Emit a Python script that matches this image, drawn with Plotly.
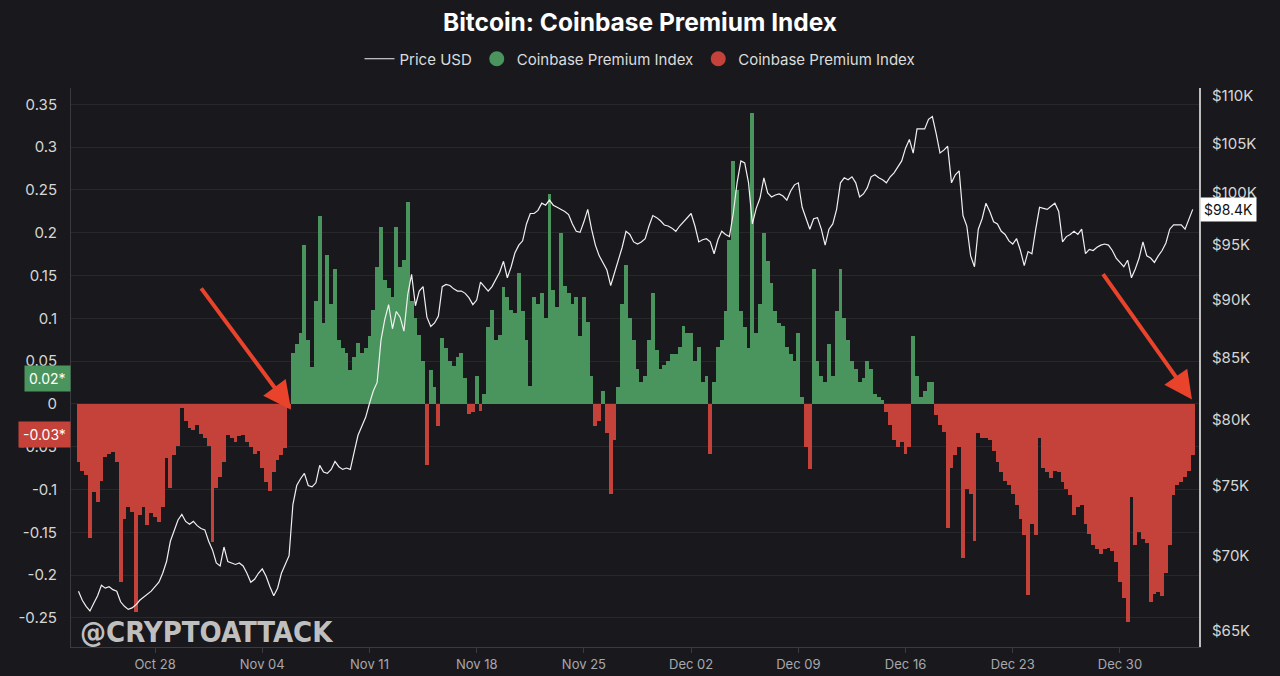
import math
import pandas as pd
import plotly.graph_objects as go
from plotly.subplots import make_subplots

# ---------------- data (6-hourly, starting 2024-10-23 00:00) ----------------
start_time = "2024-10-23 00:00"

premium = [
    -0.068, -0.078, -0.083, -0.157,    # Oct 23
    -0.103, -0.115, -0.09, -0.062,     # Oct 24
    -0.058, -0.056, -0.068, -0.208,    # Oct 25
    -0.135, -0.12, -0.126, -0.243,     # Oct 26
    -0.13, -0.12, -0.141, -0.128,      # Oct 27
    -0.132, -0.138, -0.12, -0.063,     # Oct 28
    -0.098, -0.06, -0.049, -0.005,     # Oct 29
    -0.02, -0.028, -0.03, -0.025,      # Oct 30
    -0.035, -0.04, -0.049, -0.161,     # Oct 31
    -0.098, -0.085, -0.068, -0.036,    # Nov 01
    -0.04, -0.044, -0.038, -0.036,     # Nov 02
    -0.045, -0.05, -0.058, -0.055,     # Nov 03
    -0.075, -0.091, -0.102, -0.079,    # Nov 04
    -0.065, -0.06, -0.052, -0.005,     # Nov 05
    0.059, 0.07, 0.083, 0.186,         # Nov 06
    0.075, 0.043, 0.12, 0.219,         # Nov 07
    0.094, 0.174, 0.117, 0.157,        # Nov 08
    0.075, 0.065, 0.059, 0.04,         # Nov 09
    0.055, 0.071, 0.059, 0.065,        # Nov 10
    0.079, 0.11, 0.16, 0.207,          # Nov 11
    0.145, 0.135, 0.125, 0.207,        # Nov 12
    0.16, 0.168, 0.236, 0.12,          # Nov 13
    0.1, 0.08, 0.05, -0.071,           # Nov 14
    0.04, 0.02, -0.026, 0.077,         # Nov 15
    0.065, 0.05, 0.044, 0.055,         # Nov 16
    0.059, 0.03, -0.012, -0.01,        # Nov 17
    0.032, -0.008, 0.012, 0.09,        # Nov 18
    0.11, 0.075, 0.08, 0.137,          # Nov 19
    0.125, 0.11, 0.106, 0.153,         # Nov 20
    0.109, 0.075, 0.021, 0.125,        # Nov 21
    0.117, 0.129, 0.10, 0.245,         # Nov 22
    0.133, 0.113, 0.2, 0.138,          # Nov 23
    0.129, 0.117, 0.125, 0.079,        # Nov 24
    0.125, 0.096, 0.033, -0.026,       # Nov 25
    -0.02, 0.015, -0.034, -0.105,      # Nov 26
    -0.042, 0.02, 0.117, 0.162,        # Nov 27
    0.1, 0.075, 0.041, 0.025,          # Nov 28
    0.033, 0.075, 0.129, 0.063,        # Nov 29
    0.041, 0.045, 0.05, 0.058,         # Nov 30
    0.058, 0.067, 0.091, 0.083,        # Dec 01
    0.083, 0.05, 0.067, 0.025,         # Dec 02
    0.033, -0.058, 0.025, 0.067,       # Dec 03
    0.075, 0.109, 0.192, 0.284,        # Dec 04
    0.25, 0.109, 0.09, 0.065,          # Dec 05
    0.34, 0.083, 0.117, 0.2,           # Dec 06
    0.167, 0.141, 0.109, 0.095,        # Dec 07
    0.091, 0.067, 0.058, 0.05,         # Dec 08
    0.083, 0.008, -0.05, -0.076,       # Dec 09
    0.158, 0.05, 0.033, 0.025,         # Dec 10
    0.07, 0.033, 0.109, 0.158,         # Dec 11
    0.1, 0.075, 0.05, 0.041,           # Dec 12
    0.025, 0.03, 0.05, 0.041,          # Dec 13
    0.012, 0.008, 0.004, -0.01,        # Dec 14
    -0.025, -0.042, -0.05, -0.045,     # Dec 15
    -0.058, -0.05, 0.079, 0.033,       # Dec 16
    0.008, 0.015, 0.025, 0.025,        # Dec 17
    -0.013, -0.025, -0.033, -0.145,    # Dec 18
    -0.075, -0.06, -0.05, -0.18,       # Dec 19
    -0.1, -0.105, -0.16, -0.034,       # Dec 20
    -0.04, -0.04, -0.042, -0.055,      # Dec 21
    -0.068, -0.08, -0.09, -0.095,      # Dec 22
    -0.105, -0.118, -0.135, -0.153,    # Dec 23
    -0.223, -0.14, -0.153, -0.04,      # Dec 24
    -0.075, -0.08, -0.086, -0.078,     # Dec 25
    -0.08, -0.091, -0.1, -0.106,       # Dec 26
    -0.13, -0.12, -0.118, -0.14,       # Dec 27
    -0.152, -0.165, -0.17, -0.175,     # Dec 28
    -0.17, -0.168, -0.172, -0.185,     # Dec 29
    -0.208, -0.227, -0.255, -0.109,    # Dec 30
    -0.165, -0.15, -0.158, -0.162,     # Dec 31
    -0.231, -0.222, -0.22, -0.225,     # Jan 01
    -0.198, -0.165, -0.106, -0.095,    # Jan 02
    -0.091, -0.085, -0.078, -0.06,     # Jan 03
]

price_k = [
    67.6, 67.0, 66.6, 66.3,      # Oct 23
    66.8, 67.3, 68.0, 67.8,      # Oct 24
    67.9, 67.7, 67.6, 66.9,      # Oct 25
    66.6, 66.4, 66.5, 66.7,      # Oct 26
    67.0, 67.2, 67.4, 67.6,      # Oct 27
    67.9, 68.2, 68.8, 69.6,      # Oct 28
    71.0, 71.8, 72.5, 72.9,      # Oct 29
    72.4, 72.2, 72.4, 72.1,      # Oct 30
    71.9, 71.8, 71.0, 70.4,      # Oct 31
    69.5, 69.3, 70.6, 69.6,      # Nov 01
    69.5, 69.4, 69.5, 69.3,      # Nov 02
    68.8, 68.2, 68.4, 68.8,      # Nov 03
    69.1, 68.6, 67.9, 67.3,      # Nov 04
    67.8, 68.8, 69.4, 70.0,      # Nov 05
    73.6, 75.0, 75.5, 75.9,      # Nov 06
    75.0, 74.9, 75.2, 76.5,      # Nov 07
    76.0, 75.9, 76.2, 76.8,      # Nov 08
    76.4, 76.2, 76.3, 76.2,      # Nov 09
    77.5, 78.8, 79.5, 80.2,      # Nov 10
    81.3, 82.3, 83.0, 86.5,      # Nov 11
    88.3, 89.6, 87.5, 89.0,      # Nov 12
    88.5, 87.3, 90.5, 92.3,      # Nov 13
    89.5, 90.8, 91.2, 88.5,      # Nov 14
    87.7, 88.0, 88.6, 91.2,      # Nov 15
    91.4, 91.3, 91.0, 90.8,      # Nov 16
    90.8, 90.6, 90.2, 89.6,      # Nov 17
    90.0, 91.6, 91.2, 90.8,      # Nov 18
    91.2, 91.8, 92.5, 93.5,      # Nov 19
    92.0, 93.0, 94.3, 95.0,      # Nov 20
    95.4, 97.0, 98.0, 98.0,      # Nov 21
    98.3, 99.0, 98.8, 99.3,      # Nov 22
    98.8, 98.6, 98.4, 98.2,      # Nov 23
    97.9, 97.0, 96.3, 96.2,      # Nov 24
    97.2, 98.4, 96.5, 95.0,      # Nov 25
    94.0, 93.3, 92.7, 91.3,      # Nov 26
    92.5, 93.5, 94.8, 96.3,      # Nov 27
    96.0, 95.3, 95.1, 95.3,      # Nov 28
    95.6, 96.8, 97.8, 97.6,      # Nov 29
    97.3, 96.9, 96.8, 96.6,      # Nov 30
    96.3, 96.8, 97.2, 97.6,      # Dec 01
    98.0, 96.8, 95.3, 95.5,      # Dec 02
    95.6, 95.3, 94.2, 95.5,      # Dec 03
    96.3, 96.0, 95.8, 98.0,      # Dec 04
    101.0, 103.2, 103.0, 101.0,  # Dec 05
    97.0, 98.5, 99.5, 101.5,     # Dec 06
    100.0, 99.6, 99.8, 99.9,     # Dec 07
    99.7, 99.3, 100.2, 100.8,    # Dec 08
    101.0, 98.6, 97.5, 96.5,     # Dec 09
    97.5, 97.6, 96.5, 95.0,      # Dec 10
    96.5, 97.0, 98.4, 101.0,     # Dec 11
    101.5, 101.3, 101.6, 101.0,  # Dec 12
    99.6, 99.9, 100.5, 101.6,    # Dec 13
    101.8, 101.5, 101.3, 101.0,  # Dec 14
    101.6, 102.0, 102.6, 103.2,  # Dec 15
    104.5, 105.4, 104.0, 106.5,  # Dec 16
    106.5, 106.5, 107.5, 107.8,  # Dec 17
    106.0, 104.0, 104.3, 104.7,  # Dec 18
    101.0, 101.8, 102.2, 97.8,   # Dec 19
    96.8, 94.0, 93.0, 96.5,      # Dec 20
    97.5, 99.0, 98.2, 97.2,      # Dec 21
    97.0, 96.3, 96.0, 95.4,      # Dec 22
    95.1, 95.6, 94.5, 93.1,      # Dec 23
    94.4, 94.2, 96.5, 98.6,      # Dec 24
    98.5, 98.4, 98.7, 99.0,      # Dec 25
    98.2, 95.3, 95.8, 96.0,      # Dec 26
    96.3, 96.0, 96.5, 94.2,      # Dec 27
    94.6, 94.5, 94.8, 95.0,      # Dec 28
    95.1, 95.0, 94.5, 93.8,      # Dec 29
    93.4, 93.0, 93.6, 92.0,      # Dec 30
    92.8, 93.8, 95.3, 94.0,      # Dec 31
    93.8, 93.4, 94.0, 94.5,      # Jan 01
    95.2, 96.5, 96.9, 96.9,      # Jan 02
    96.9, 96.5, 97.5, 98.4,      # Jan 03
]

x_tick_dates = ["2024-10-28", "2024-11-04", "2024-11-11", "2024-11-18", "2024-11-25",
                "2024-12-02", "2024-12-09", "2024-12-16", "2024-12-23", "2024-12-30"]
x_tick_labels = ["Oct 28", "Nov 04", "Nov 11", "Nov 18", "Nov 25",
                 "Dec 02", "Dec 09", "Dec 16", "Dec 23", "Dec 30"]

left_ticks = [-0.25, -0.2, -0.15, -0.1, -0.05, 0, 0.05, 0.1, 0.15, 0.2, 0.25, 0.3, 0.35]
left_tick_labels = ["-0.25", "-0.2", "-0.15", "-0.1", "-0.05", "0", "0.05", "0.1",
                    "0.15", "0.2", "0.25", "0.3", "0.35"]

right_ticks_k = [65, 70, 75, 80, 85, 90, 95, 100, 105, 110]
right_tick_labels = ["$65K", "$70K", "$75K", "$80K", "$85K", "$90K", "$95K",
                     "$100K", "$105K", "$110K"]

last_price_label = "$98.4K"
green_label = "0.02*"
red_label = "-0.03*"

# ---------------- styling ----------------
BG = "#19191d"
GREEN = "#4a955d"
RED = "#c5423a"
ARROW = "#e9432c"
FONT = "Inter, Roboto, 'Noto Sans', sans-serif"

times = pd.date_range(start_time, periods=len(premium), freq="6h")
pos_vals = [v if v >= 0 else None for v in premium]
neg_vals = [v if v < 0 else None for v in premium]
price_usd = [p * 1000 for p in price_k]

fig = make_subplots(specs=[[{"secondary_y": True}]])
bar_w = 6 * 3600 * 1000

fig.add_trace(go.Bar(x=times, y=pos_vals, width=bar_w, marker=dict(color=GREEN, line_width=0),
                     showlegend=False, name="Coinbase Premium Index"), secondary_y=False)
fig.add_trace(go.Bar(x=times, y=neg_vals, width=bar_w, marker=dict(color=RED, line_width=0),
                     showlegend=False, name="Coinbase Premium Index"), secondary_y=False)
fig.add_trace(go.Scatter(x=times, y=price_usd, mode="lines", name="Price USD",
                         line=dict(color="#f0f0f0", width=1.2), legendrank=1), secondary_y=True)
fig.add_trace(go.Scatter(x=[None], y=[None], mode="markers", name="Coinbase Premium Index",
                         marker=dict(color=GREEN, size=15), legendrank=2), secondary_y=False)
fig.add_trace(go.Scatter(x=[None], y=[None], mode="markers", name="Coinbase Premium Index",
                         marker=dict(color=RED, size=15), legendrank=3), secondary_y=False)

fig.update_layout(
    width=1280, height=676, autosize=False,
    paper_bgcolor=BG, plot_bgcolor=BG,
    margin=dict(l=71, r=81, t=88, b=29, autoexpand=False),
    barmode="overlay", bargap=0,
    font=dict(family=FONT, color="#d6d6d6", size=15),
    title=dict(text="<b>Bitcoin: Coinbase Premium Index</b>", x=0.5, xanchor="center",
               xref="container", y=(676 - 22) / 676, yref="container", yanchor="middle",
               font=dict(size=24.5, color="#ffffff", family=FONT)),
    legend=dict(orientation="h", x=0.5, xanchor="center", xref="container",
                y=(676 - 59) / 676, yref="container", yanchor="middle",
                font=dict(size=15, color="#dcdcdc"), bgcolor="rgba(0,0,0,0)", itemwidth=30),
    showlegend=True,
)

x0 = pd.Timestamp("2024-10-22 12:18")
x1 = pd.Timestamp("2025-01-04 03:50")
fig.update_xaxes(
    domain=[0, 1],
    range=[x0, x1], tickvals=pd.to_datetime(x_tick_dates), ticktext=x_tick_labels,
    showgrid=False, showline=True, linecolor="#3a3a40", linewidth=1,
    ticks="outside", ticklen=5, tickcolor="#3a3a40", automargin=False,
    tickfont=dict(size=13, color="#a8a8ad"), zeroline=False,
)
fig.update_yaxes(
    range=[-0.284, 0.369], tickvals=left_ticks, ticktext=left_tick_labels,
    showgrid=True, gridcolor="#27272c", gridwidth=1, zeroline=False,
    showline=True, linecolor="#3a3a40", linewidth=1, automargin=False,
    tickfont=dict(size=15, color="#d6d6d6"), ticks="", ticklabelstandoff=10,
    secondary_y=False,
)
fig.update_yaxes(
    type="log", range=[math.log10(63990), math.log10(110870)],
    tickvals=[v * 1000 for v in right_ticks_k], ticktext=right_tick_labels,
    showgrid=False, zeroline=False, showline=True, linecolor="#bdbdbd", linewidth=2,
    automargin=False, tickfont=dict(size=15, color="#d6d6d6"), ticks="",
    ticklabelstandoff=8, secondary_y=True,
)

annotations = [
    # last value tags
    dict(text=green_label, xref="paper", x=0, xanchor="right", yref="y", y=0.030,
         yanchor="middle", showarrow=False, bgcolor=GREEN, borderpad=4,
         font=dict(size=14, color="#ffffff")),
    dict(text=red_label, xref="paper", x=0, xanchor="right", yref="y", y=-0.036,
         yanchor="middle", showarrow=False, bgcolor=RED, borderpad=4,
         font=dict(size=14, color="#ffffff")),
    dict(text=last_price_label, xref="paper", x=1, xanchor="left", xshift=1, yref="y2",
         y=math.log10(98400), yanchor="middle", showarrow=False, bgcolor="#ffffff",
         borderpad=3, font=dict(size=14, color="#111111")),
    # arrows
    dict(text="", xref="x", yref="y", x=pd.Timestamp("2024-11-05 21:10"), y=-0.007,
         ax=-91, ay=-123, showarrow=True, arrowhead=2, arrowsize=1.4, arrowwidth=4,
         arrowcolor=ARROW, standoff=0),
    dict(text="", xref="x", yref="y", x=pd.Timestamp("2025-01-03 16:50"), y=0.005,
         ax=-90, ay=-127, showarrow=True, arrowhead=2, arrowsize=1.4, arrowwidth=4,
         arrowcolor=ARROW, standoff=0),
    # watermark
    dict(text="<b>@CRYPTOATTACK</b>", xref="paper", x=0.006, xanchor="left",
         yref="paper", y=0.027, yanchor="middle", showarrow=False,
         font=dict(size=29, color="rgba(215,215,215,0.9)",
                   family="'DejaVu Sans Condensed', 'Liberation Sans Narrow', sans-serif")),
]
fig.update_layout(annotations=annotations)

fig.write_html(
    "out.html",
    config={"responsive": False, "displayModeBar": False},
    post_script="document.body.style.margin='0';document.body.style.overflow='hidden';",
)
